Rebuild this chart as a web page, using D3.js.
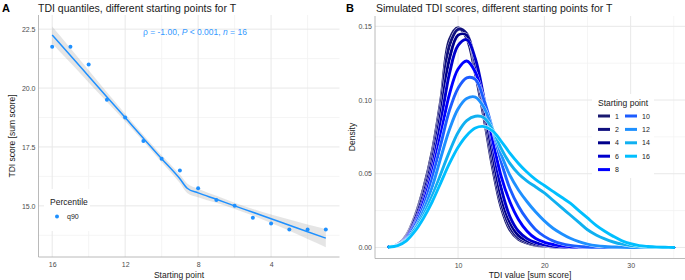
<!DOCTYPE html>
<html>
<head>
<meta charset="utf-8">
<script src="https://cdn.jsdelivr.net/npm/d3@7"></script>
<style>
  body { margin: 0; background: #fff; }
  text { font-family: "Liberation Sans", Arial, sans-serif; }
</style>
</head>
<body>
<div id="chart"></div>
<script>
// ---- Panel A data: TDI 90th percentile by starting point ----
const startPoints = [16, 15, 14, 13, 12, 11, 10, 9, 8, 7, 6, 5, 4, 3, 2, 1];
const q90 = [21.75, 21.75, 21.0, 19.5, 18.75, 17.75, 17.0, 16.5, 15.75, 15.25, 15.0, 14.5, 14.25, 14.0, 14.0, 14.0];
// fitted line and half width of the grey band
const fitX = [16, 15, 14, 13, 12, 11, 10, 9, 8.6, 8, 7, 6, 5, 4, 3, 2, 1];
const fitY = [22.25, 21.38, 20.5, 19.62, 18.75, 17.87, 17.0, 16.15, 15.75, 15.55, 15.28, 15.0, 14.73, 14.45, 14.18, 13.9, 13.63];
const fitHalf = [0.36, 0.31, 0.26, 0.2, 0.16, 0.14, 0.15, 0.18, 0.2, 0.18, 0.15, 0.13, 0.14, 0.18, 0.24, 0.31, 0.39];
const xTicksA = [16, 12, 8, 4];
const xMinorA = [14, 10, 6, 2];
const yTicksA = [15, 17.5, 20, 22.5];
const yMinorA = [13.75, 16.25, 18.75, 21.25];

// ---- Panel B data: simulated TDI densities ----
const tdiGrid = [2, 3, 4, 5, 6, 7, 8, 9, 10, 11, 12, 13, 14, 15, 16, 17, 18, 19, 20, 21, 22, 23, 24, 25, 26, 27, 28, 29, 30, 31, 32, 33, 34, 35];
const dens1 = [0.0005, 0.002, 0.008, 0.021, 0.040, 0.065, 0.100, 0.141, 0.149, 0.142, 0.118, 0.088, 0.054, 0.027, 0.012, 0.0055, 0.003, 0.0015, 0.0008, 0.0004, 0.0002, 0.0001, 0, 0, 0, 0, 0, 0, 0, 0, 0, 0, 0, 0];
const dens2 = [0.0005, 0.002, 0.0075, 0.020, 0.038, 0.062, 0.096, 0.137, 0.148, 0.145, 0.122, 0.092, 0.058, 0.030, 0.014, 0.0065, 0.0035, 0.0018, 0.0009, 0.0004, 0.0002, 0.0001, 0, 0, 0, 0, 0, 0, 0, 0, 0, 0, 0, 0];
const dens4 = [0.0005, 0.002, 0.007, 0.019, 0.036, 0.059, 0.091, 0.128, 0.144, 0.144, 0.125, 0.096, 0.063, 0.034, 0.017, 0.008, 0.0045, 0.0025, 0.0013, 0.0006, 0.0003, 0.0001, 0, 0, 0, 0, 0, 0, 0, 0, 0, 0, 0, 0];
const dens6 = [0.0004, 0.0018, 0.0065, 0.017, 0.033, 0.055, 0.085, 0.118, 0.137, 0.141, 0.128, 0.101, 0.069, 0.040, 0.021, 0.011, 0.006, 0.0033, 0.0017, 0.0008, 0.0004, 0.0002, 0, 0, 0, 0, 0, 0, 0, 0, 0, 0, 0, 0];
const dens8 = [0.0004, 0.0017, 0.006, 0.016, 0.031, 0.051, 0.077, 0.104, 0.121, 0.1265, 0.119, 0.099, 0.073, 0.048, 0.031, 0.019, 0.011, 0.006, 0.0035, 0.002, 0.001, 0.0005, 0.0002, 0.0001, 0, 0, 0, 0, 0, 0, 0, 0, 0, 0];
const dens10 = [0.0004, 0.0016, 0.0055, 0.015, 0.028, 0.047, 0.070, 0.093, 0.108, 0.115, 0.114, 0.100, 0.080, 0.058, 0.040, 0.028, 0.019, 0.012, 0.0075, 0.0045, 0.0026, 0.0014, 0.0007, 0.0003, 0.0001, 0, 0, 0, 0, 0, 0, 0, 0, 0];
const dens12 = [0.0004, 0.0015, 0.005, 0.013, 0.025, 0.041, 0.061, 0.080, 0.094, 0.101, 0.102, 0.095, 0.080, 0.063, 0.049, 0.039, 0.031, 0.024, 0.018, 0.013, 0.0093, 0.0062, 0.0039, 0.0023, 0.0012, 0.0006, 0.0003, 0.0001, 0, 0, 0, 0, 0, 0];
const dens14 = [0.0004, 0.0015, 0.005, 0.0125, 0.022, 0.035, 0.050, 0.065, 0.078, 0.086, 0.089, 0.088, 0.080, 0.067, 0.057, 0.050, 0.045, 0.041, 0.037, 0.032, 0.027, 0.022, 0.017, 0.012, 0.0085, 0.0058, 0.0037, 0.0022, 0.0012, 0.0006, 0.0003, 0.0001, 0, 0];
const dens16 = [0.0003, 0.0013, 0.0045, 0.011, 0.020, 0.031, 0.044, 0.057, 0.068, 0.076, 0.081, 0.082, 0.079, 0.072, 0.064, 0.057, 0.051, 0.046, 0.042, 0.038, 0.034, 0.030, 0.025, 0.020, 0.015, 0.011, 0.0075, 0.0045, 0.0025, 0.0012, 0.0006, 0.0002, 0.0001, 0];
const groups = ["1", "2", "4", "6", "8", "10", "12", "14", "16"];
const groupColors = ["#191970", "#10107f", "#00008b", "#0000cd", "#0000ff", "#1c5cff", "#1e90ff", "#10b0f0", "#00bfff"];
const densities = [dens1, dens2, dens4, dens6, dens8, dens10, dens12, dens14, dens16];
const xTicksB = [10, 20, 30];
const xMinorB = [5, 15, 25, 35];
const yTicksB = [0, 0.05, 0.10, 0.15];
const yMinorB = [0.025, 0.075, 0.125];

const blue = "#1e90ff";
const tickCol = "#4d4d4d";

const svg = d3.select("#chart")
  .append("svg")
  .attr("width", 685)
  .attr("height", 280);

// draw light grid lines for a panel
function drawGrid(g, x, y, xs, ys, color, w) {
  const [x0, x1] = x.range();
  const [y0, y1] = y.range();
  g.selectAll(null).data(xs).enter().append("line")
    .attr("x1", d => x(d)).attr("x2", d => x(d))
    .attr("y1", y0).attr("y2", y1)
    .attr("stroke", color).attr("stroke-width", w);
  g.selectAll(null).data(ys).enter().append("line")
    .attr("x1", x0).attr("x2", x1)
    .attr("y1", d => y(d)).attr("y2", d => y(d))
    .attr("stroke", color).attr("stroke-width", w);
}

function drawAxes(g, x, y, xt, yt, fmt) {
  const [x0] = x.range();
  const [y0] = y.range();
  g.append("g")
    .attr("transform", `translate(0,${y0})`)
    .call(d3.axisBottom(x).tickValues(xt).tickSize(0).tickPadding(5))
    .call(a => a.select(".domain").remove())
    .selectAll("text").attr("fill", tickCol).style("font-size", "7px");
  g.append("g")
    .attr("transform", `translate(${x0},0)`)
    .call(d3.axisLeft(y).tickValues(yt).tickFormat(fmt).tickSize(0).tickPadding(3))
    .call(a => a.select(".domain").remove())
    .selectAll("text").attr("fill", tickCol).style("font-size", "7px");
  // axis lines
  g.append("line")
    .attr("x1", x0).attr("x2", x.range()[1]).attr("y1", y0).attr("y2", y0)
    .attr("stroke", "#a8a8a8").attr("stroke-width", 0.8);
  g.append("line")
    .attr("x1", x0).attr("x2", x0).attr("y1", y0).attr("y2", y.range()[1])
    .attr("stroke", "#a8a8a8").attr("stroke-width", 0.8);
}

// ================= Panel A =================
const xA = d3.scaleLinear().domain([16.75, 0.25]).range([38.5, 339.5]);
const yA = d3.scaleLinear().domain([12.83, 23.1]).range([257, 15]);
const gA = svg.append("g");

drawGrid(gA, xA, yA, xMinorA, yMinorA, "#f3f3f3", 0.8);
drawGrid(gA, xA, yA, xTicksA, yTicksA, "#e8e8e8", 1);

// confidence band
const fitData = fitX.map((x, i) => ({ x: x, y: fitY[i], h: fitHalf[i] }));
gA.append("path")
  .datum(fitData)
  .attr("fill", "#999999")
  .attr("fill-opacity", 0.25)
  .attr("d", d3.area()
    .x(d => xA(d.x))
    .y0(d => yA(d.y - d.h))
    .y1(d => yA(d.y + d.h))
    .curve(d3.curveMonotoneX));

gA.append("path")
  .datum(fitData)
  .attr("fill", "none")
  .attr("stroke", blue)
  .attr("stroke-width", 1.5)
  .attr("d", d3.line().x(d => xA(d.x)).y(d => yA(d.y)).curve(d3.curveMonotoneX));

gA.selectAll(".pt")
  .data(startPoints.map((s, i) => ({ s: s, v: q90[i] })))
  .enter().append("circle")
  .attr("cx", d => xA(d.s))
  .attr("cy", d => yA(d.v))
  .attr("r", 2)
  .attr("fill", blue);

drawAxes(gA, xA, yA, xTicksA, yTicksA, d3.format(".1f"));

// correlation label
const ann = gA.append("text")
  .attr("x", 143).attr("y", 35)
  .attr("fill", "#3399ff")
  .style("font-size", "8.5px");
ann.append("tspan").text("ρ = -1.00, ");
ann.append("tspan").style("font-style", "italic").text("P");
ann.append("tspan").text(" < 0.001, ");
ann.append("tspan").style("font-style", "italic").text("n");
ann.append("tspan").text(" = 16");

// legend A
gA.append("rect").attr("x", 44).attr("y", 189).attr("width", 46).attr("height", 42).attr("fill", "#fff");
gA.append("text").attr("x", 50).attr("y", 205).style("font-size", "8.5px").attr("fill", "#1a1a1a").text("Percentile");
gA.append("circle").attr("cx", 57).attr("cy", 216.5).attr("r", 2).attr("fill", blue);
gA.append("text").attr("x", 67).attr("y", 219).style("font-size", "7px").attr("fill", "#1a1a1a").text("q90");

// titles
svg.append("text").attr("x", 2).attr("y", 12).style("font-size", "11px").style("font-weight", "bold").text("A");
svg.append("text").attr("x", 38).attr("y", 12).style("font-size", "10.5px").attr("fill", "#1a1a1a")
  .text("TDI quantiles, different starting points for T");
svg.append("text").attr("x", 179).attr("y", 278).attr("text-anchor", "middle")
  .style("font-size", "8.5px").attr("fill", "#1a1a1a").text("Starting point");
svg.append("text").attr("transform", "translate(15,136) rotate(-90)").attr("text-anchor", "middle")
  .style("font-size", "8.5px").attr("fill", "#1a1a1a").text("TDI score [sum score]");

// ================= Panel B =================
const xB = d3.scaleLinear().domain([0.37, 36.3]).range([375, 685]);
const yB = d3.scaleLinear().domain([-0.0075, 0.157]).range([258.5, 16]);
const gB = svg.append("g");

drawGrid(gB, xB, yB, xMinorB, yMinorB, "#f3f3f3", 0.8);
drawGrid(gB, xB, yB, xTicksB, yTicksB, "#e8e8e8", 1);

const densLine = d3.line()
  .x((d, i) => xB(tdiGrid[i]))
  .y(d => yB(d))
  .curve(d3.curveCatmullRom);

densities.forEach((dens, k) => {
  gB.append("path")
    .datum(dens)
    .attr("fill", "none")
    .attr("stroke", "#fff")
    .attr("stroke-width", 3.5)
    .attr("stroke-linejoin", "round")
    .attr("d", densLine);
  gB.append("path")
    .datum(dens)
    .attr("fill", "none")
    .attr("stroke", groupColors[k])
    .attr("stroke-width", 2.9)
    .attr("stroke-linejoin", "round")
    .attr("stroke-linecap", "round")
    .attr("d", densLine);
});

drawAxes(gB, xB, yB, xTicksB, yTicksB, d3.format(".2f"));

// legend B
gB.append("rect").attr("x", 592).attr("y", 94).attr("width", 62).attr("height", 84).attr("fill", "#fff");
gB.append("text").attr("x", 598).attr("y", 106).style("font-size", "8.5px").attr("fill", "#1a1a1a").text("Starting point");
groups.forEach((g, k) => {
  const col = k < 5 ? 0 : 1;
  const row = k < 5 ? k : k - 5;
  const lx = 598 + col * 27;
  const ly = 116 + row * 13.4;
  gB.append("line")
    .attr("x1", lx).attr("x2", lx + 12)
    .attr("y1", ly).attr("y2", ly)
    .attr("stroke", groupColors[k]).attr("stroke-width", 3);
  gB.append("text")
    .attr("x", lx + 17).attr("y", ly + 2.5)
    .style("font-size", "7px").attr("fill", "#1a1a1a").text(g);
});

svg.append("text").attr("x", 346).attr("y", 12).style("font-size", "11px").style("font-weight", "bold").text("B");
svg.append("text").attr("x", 376).attr("y", 12).style("font-size", "10.5px").attr("fill", "#1a1a1a")
  .text("Simulated TDI scores, different starting points for T");
svg.append("text").attr("x", 530).attr("y", 278).attr("text-anchor", "middle")
  .style("font-size", "8.5px").attr("fill", "#1a1a1a").text("TDI value [sum score]");
svg.append("text").attr("transform", "translate(355,137) rotate(-90)").attr("text-anchor", "middle")
  .style("font-size", "8.5px").attr("fill", "#1a1a1a").text("Density");
</script>
</body>
</html>
